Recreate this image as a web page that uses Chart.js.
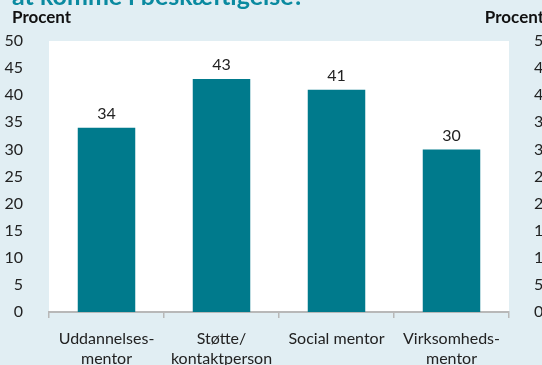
<!DOCTYPE html>
<html>
<head>
<meta charset="utf-8">
<script src="https://cdn.jsdelivr.net/npm/chart.js@4/dist/chart.umd.min.js"></script>
<style>
  html, body { margin: 0; padding: 0; background: #e1eef3; }
  #wrap { width: 542px; height: 365px; overflow: hidden; }
</style>
</head>
<body>
<div id="wrap"><canvas id="mentorChart" width="542" height="365"></canvas></div>
<script>
// Andel i procent per mentortype
const categories = [['Uddannelses-', 'mentor'], ['Støtte/', 'kontaktperson'], 'Social mentor', ['Virksomheds-', 'mentor']];
const values = [34, 43, 41, 30];
const yTicks = [0, 5, 10, 15, 20, 25, 30, 35, 40, 45, 50];

const FONT = 'Lato, "Noto Sans", sans-serif';
const TEAL = '#007a8c';

// baggrund, hvidt plotområde, titel og enhedstekster
const frame = {
    id: 'frame',
    beforeDraw(chart) {
        const { ctx, chartArea: a } = chart;
        ctx.save();
        ctx.fillStyle = '#e1eef3';
        ctx.fillRect(0, 0, chart.width, chart.height);
        ctx.fillStyle = '#ffffff';
        ctx.fillRect(a.left, a.top, a.right - a.left, a.bottom - a.top);

        ctx.fillStyle = '#0a8aa0';
        ctx.font = 'bold 25px ' + FONT;
        ctx.textBaseline = 'alphabetic';
        ctx.textAlign = 'left';
        ctx.fillText('at komme i beskæftigelse?', 12, 5);

        ctx.fillStyle = '#111';
        ctx.font = 'bold 17px ' + FONT;
        ctx.fillText('Procent', 12, 23);
        ctx.textAlign = 'right';
        ctx.fillText('Procent', 544, 23);
        ctx.restore();
    }
};

// værdier over søjlerne
const barValues = {
    id: 'barValues',
    afterDatasetsDraw(chart) {
        const { ctx } = chart;
        const meta = chart.getDatasetMeta(0);
        ctx.save();
        ctx.fillStyle = '#222';
        ctx.font = '16px ' + FONT;
        ctx.textAlign = 'center';
        ctx.textBaseline = 'bottom';
        meta.data.forEach((bar, i) => {
            ctx.fillText(String(values[i]), bar.x, bar.y - 6);
        });
        ctx.restore();
    }
};

const yAxis = (position, padding, width) => ({
    position: position,
    min: 0,
    max: 50,
    afterBuildTicks: s => { s.ticks = yTicks.map(v => ({ value: v })); },
    afterFit: s => { s.width = width; },
    grid: { display: false },
    border: { display: false },
    ticks: {
        color: '#222',
        padding: padding,
        font: { family: FONT, size: 16 }
    }
});

new Chart(document.getElementById('mentorChart'), {
    type: 'bar',
    data: {
        labels: categories,
        datasets: [{
            data: values,
            backgroundColor: TEAL,
            categoryPercentage: 1,
            barPercentage: 0.5,
            yAxisID: 'y'
        }]
    },
    options: {
        responsive: false,
        animation: false,
        layout: { padding: { top: 41 } },
        plugins: {
            legend: { display: false },
            tooltip: { enabled: false }
        },
        scales: {
            x: {
                afterFit: s => { s.height = 53; },
                grid: {
                    display: true,
                    drawOnChartArea: false,
                    drawTicks: true,
                    tickLength: 6,
                    color: '#b8b8b8',
                    lineWidth: 1.5
                },
                border: { color: '#b8b8b8', width: 2 },
                ticks: {
                    color: '#222',
                    padding: 10,
                    maxRotation: 0,
                    font: { family: FONT, size: 16, lineHeight: 1.3 }
                }
            },
            y: yAxis('left', 18, 49),
            y2: yAxis('right', 17, 33)
        }
    },
    plugins: [frame, barValues]
});
</script>
</body>
</html>
